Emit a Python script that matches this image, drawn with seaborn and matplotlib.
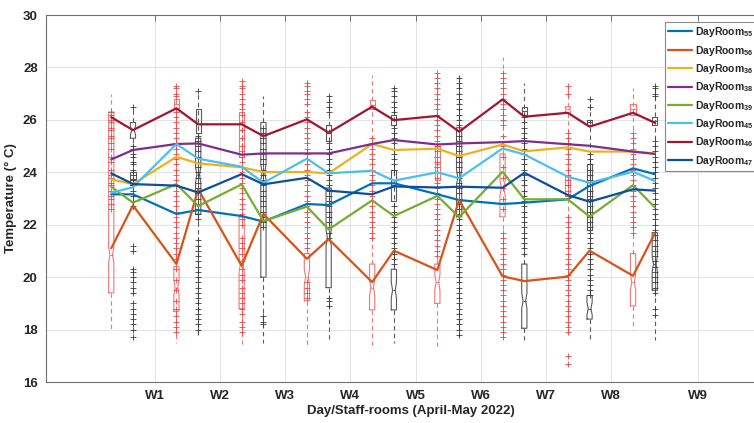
import numpy as np
import pandas as pd
import matplotlib
matplotlib.use("Agg")
import matplotlib.pyplot as plt
from matplotlib.lines import Line2D
import seaborn as sns

# ---------------- data ----------------
rooms = ["DayRoom55", "DayRoom56", "DayRoom36", "DayRoom38",
         "DayRoom39", "DayRoom45", "DayRoom46", "DayRoom47"]
room_labels = [r"DayRoom$_{55}$", r"DayRoom$_{56}$", r"DayRoom$_{36}$", r"DayRoom$_{38}$",
               r"DayRoom$_{39}$", r"DayRoom$_{45}$", r"DayRoom$_{46}$", r"DayRoom$_{47}$"]
week_labels = ["W1", "W2", "W3", "W4", "W5", "W6", "W7", "W8", "W9"]

# median temperature of each room at the 18 sampled days/staff-room groups
t55 = [23.16, 23.16, 22.41, 22.56, 22.33, 22.12, 22.79, 22.75, 23.58, 23.58, 23.16, 22.94, 22.79, 22.84, 22.97, 23.48, 24.15, 23.93]
t56 = [21.10, 22.74, 20.50, 23.35, 20.43, 22.41, 20.70, 21.45, 19.81, 21.01, 20.27, 22.94, 20.03, 19.85, 20.02, 21.01, 20.05, 21.67]
t36 = [23.73, 23.55, 24.59, 24.34, 24.19, 24.01, 24.01, 23.96, 25.08, 24.85, 24.90, 24.62, 25.06, 24.80, 24.95, 24.79, 24.79, 24.72]
t38 = [24.49, 24.85, 25.08, 25.10, 24.67, 24.72, 24.72, 24.72, 25.08, 25.23, 25.06, 25.10, 25.15, 25.19, 25.07, 25.01, 24.79, 24.70]
t39 = [23.45, 22.84, 23.55, 22.71, 23.54, 22.14, 22.69, 21.82, 22.93, 22.33, 23.10, 22.29, 24.02, 22.97, 22.97, 22.31, 23.51, 22.66]
t45 = [23.22, 23.43, 25.08, 24.52, 24.21, 23.60, 24.52, 23.96, 24.06, 23.68, 24.00, 23.77, 24.91, 24.68, 23.83, 23.60, 24.02, 23.67]
t46 = [26.10, 25.61, 26.44, 25.83, 25.83, 25.38, 26.02, 25.51, 26.50, 25.99, 26.15, 25.55, 26.78, 26.12, 26.27, 25.74, 26.27, 25.89]
t47 = [23.96, 23.55, 23.49, 23.23, 23.93, 23.54, 23.79, 23.30, 23.16, 23.46, 23.42, 23.45, 23.41, 23.98, 23.13, 22.88, 23.35, 23.30]

# main box of each group (even = red group, odd = black group)
box_q1 = [19.4, 25.3, 18.7, 22.4, 18.8, 20.0, 19.1, 19.6, 18.75, 18.75, 19.0, 22.3, 22.3, 18.05, 26.25, 18.4, 18.9, 19.5]
box_med = [20.85, 25.6, 19.6, 23.9, 20.5, 24.0, 20.0, 21.5, 19.6, 19.5, 19.8, 23.8, 23.4, 19.1, 26.4, 18.8, 19.8, 20.5]
box_q3 = [26.3, 25.9, 20.4, 25.3, 22.3, 25.9, 20.9, 23.4, 20.5, 20.3, 20.5, 25.7, 24.7, 20.5, 26.5, 19.3, 20.9, 21.7]
whis_lo = [17.9, 22.6, 17.5, 17.8, 17.45, 17.5, 17.4, 17.6, 17.4, 17.5, 17.35, 17.7, 17.6, 17.6, 17.9, 17.6, 18.0, 17.6]
whis_hi = [27.0, 26.5, 27.3, 27.1, 27.5, 26.9, 27.5, 26.95, 27.7, 27.2, 27.8, 27.65, 28.4, 27.4, 27.3, 26.8, 27.2, 27.3]

# additional small boxes overlaid on some groups
extra_idx = [1, 2, 3, 4, 7, 8, 9, 9, 10, 13, 14, 15, 15, 16, 17]
extra_q1 = [23.5, 26.45, 25.5, 24.6, 25.2, 26.4, 22.9, 25.8, 23.7, 26.2, 23.1, 21.8, 25.8, 26.2, 25.8]
extra_med = [23.75, 26.6, 25.85, 25.6, 25.5, 26.55, 23.5, 26.0, 24.3, 26.35, 23.5, 23.0, 25.9, 26.4, 25.95]
extra_q3 = [24.0, 26.8, 26.4, 26.3, 25.8, 26.75, 24.1, 26.2, 25.0, 26.5, 23.9, 24.3, 26.0, 26.6, 26.1]

# outliers (+) of each group
fliers = [
    [26.3, 26.2, 26.0, 25.9, 25.7, 25.6, 25.4, 25.3, 25.1, 24.9, 24.6, 24.4, 24.1, 23.9, 23.8, 23.6, 23.5, 23.3, 23.1, 23.0, 22.8, 22.6],
    [26.5, 25.0, 24.9, 24.7, 24.6, 24.4, 24.3, 24.1, 23.9, 23.7, 23.5, 23.3, 23.1, 22.9, 22.7, 21.2, 21.0, 20.3, 20.2, 20.0, 19.8, 19.6, 19.4, 19.0, 18.8, 18.6, 18.4, 18.2, 18.0, 17.7],
    [27.3, 27.2, 27.0, 26.9, 26.3, 26.1, 25.9, 25.7, 25.5, 25.3, 25.1, 24.9, 24.7, 24.5, 24.3, 24.1, 23.9, 23.7, 23.5, 23.3, 23.1, 22.9, 22.7, 22.5, 22.3, 22.1, 21.9, 21.7, 21.5, 21.3, 21.1, 20.9, 20.7, 20.3, 19.9, 19.5, 19.1, 18.8, 18.5, 18.3, 18.1, 17.9],
    [27.1, 25.4, 25.2, 25.0, 24.8, 24.6, 24.4, 24.2, 24.0, 23.8, 23.6, 23.4, 23.2, 23.0, 22.8, 22.6, 22.4, 22.2, 21.4, 21.2, 21.0, 20.8, 20.6, 20.4, 20.2, 20.0, 19.8, 19.6, 19.4, 19.2, 19.0, 18.8, 18.6, 18.4, 18.2, 18.0],
    [27.5, 27.3, 27.2, 27.0, 26.8, 26.6, 26.4, 26.2, 25.9, 25.6, 25.3, 25.0, 24.8, 24.6, 24.4, 24.2, 24.0, 23.8, 23.6, 23.4, 23.2, 23.0, 22.8, 22.6, 22.4, 22.2, 22.0, 21.5, 21.3, 21.1, 20.9, 20.6, 20.3, 20.1, 19.9, 19.6, 19.4, 19.2, 19.0, 18.8, 18.6, 18.3, 18.1, 17.9],
    [25.7, 25.5, 25.3, 25.1, 24.9, 24.7, 24.5, 24.3, 24.1, 23.9, 23.7, 23.5, 23.3, 23.1, 22.9, 22.7, 22.5, 22.3, 22.1, 21.9, 18.5, 18.3, 18.2],
    [27.4, 27.3, 27.1, 27.0, 26.8, 26.6, 26.3, 26.1, 25.9, 25.7, 25.5, 25.3, 25.1, 24.9, 24.7, 24.5, 24.3, 24.1, 23.9, 23.7, 23.5, 23.3, 23.1, 22.9, 22.7, 22.5, 22.3, 22.1, 21.9, 21.7, 21.5, 21.3, 21.1, 19.8, 19.6, 19.4, 19.2],
    [26.9, 26.7, 26.5, 26.3, 25.1, 24.9, 24.7, 24.5, 24.3, 24.1, 23.9, 23.7, 23.5, 23.3, 23.1, 22.9, 22.7, 22.5, 22.3, 22.1, 21.9, 21.7, 21.5, 19.2, 19.1, 18.9],
    [25.3, 25.1, 24.9, 24.7, 24.5, 24.3, 24.1, 23.9, 23.7, 23.5, 23.3, 23.1, 22.9, 22.7, 22.5, 22.3, 22.1, 21.9, 21.7, 21.5],
    [27.2, 27.1, 26.9, 26.7, 26.5, 26.3, 25.7, 25.5, 25.3, 25.1, 24.9, 24.7, 24.5, 24.3, 24.1, 22.7, 22.5, 22.3, 22.1, 21.9, 21.7, 21.5, 21.3, 21.1, 20.9, 20.7, 20.5],
    [27.8, 27.6, 27.4, 27.2, 27.0, 26.8, 26.6, 26.4, 26.2, 26.0, 25.8, 25.6, 25.4, 25.2, 25.0, 24.8, 24.6, 24.4, 24.2, 24.0, 23.8, 23.6, 23.4, 23.2, 23.0, 22.8, 22.6, 22.4, 22.2, 22.0, 21.8, 21.6, 21.4, 21.2, 21.0, 20.8],
    [27.6, 27.4, 27.2, 27.0, 26.8, 26.6, 26.4, 26.2, 26.0, 25.8, 25.6, 25.4, 25.2, 25.0, 24.8, 24.6, 24.4, 24.2, 24.0, 23.8, 23.6, 23.4, 23.2, 23.0, 22.8, 22.6, 22.4, 22.2, 22.0, 21.8, 21.6, 21.4, 21.2, 21.0, 20.8, 20.6, 20.4, 20.2, 20.0, 19.8, 19.6, 19.4, 19.2, 19.0, 18.8, 18.6, 18.4, 18.2, 18.0, 17.8],
    [27.8, 27.6, 27.4, 27.2, 27.0, 26.8, 26.6, 26.4, 26.2, 26.0, 25.8, 25.4, 25.0, 24.6, 24.2, 23.8, 23.4, 23.0, 22.6, 21.7, 21.5, 21.3, 21.1, 20.9, 20.7, 20.5, 20.3, 20.1, 19.9, 19.7, 19.5, 19.3, 19.1, 18.9, 18.7, 18.5, 18.3, 18.1, 17.9, 17.7],
    [26.1, 25.9, 25.7, 25.5, 25.3, 25.1, 24.9, 24.7, 24.5, 24.3, 24.1, 23.9, 23.7, 23.5, 23.3, 23.1, 22.9, 22.7, 22.5, 22.3, 22.1, 21.9, 21.7, 21.5, 21.3, 21.1, 20.9],
    [27.3, 27.0, 25.5, 25.3, 25.1, 24.9, 24.7, 24.5, 24.3, 24.1, 23.9, 23.7, 23.5, 23.3, 22.3, 22.1, 21.9, 21.7, 21.5, 21.3, 21.1, 20.9, 20.7, 20.5, 20.3, 20.1, 19.9, 19.7, 19.5, 19.3, 19.1, 18.9, 18.7, 18.5, 18.3, 18.1, 17.9, 17.0, 16.7],
    [26.8, 26.5, 24.7, 24.5, 24.3, 24.1, 23.9, 23.7, 23.5, 23.3, 23.1, 22.9, 22.7, 22.5, 22.3, 22.1, 21.9, 21.7, 21.5, 21.3, 21.1, 20.9, 20.7, 20.5, 20.3, 20.1, 19.9, 19.7, 19.5, 19.3],
    [25.5, 25.3, 25.1, 24.9, 24.7, 24.5, 24.3, 24.1, 23.9, 23.7, 23.5, 23.3, 23.1, 22.9, 22.7, 22.5, 22.3, 22.1, 21.9, 21.7],
    [27.3, 27.2, 27.0, 26.9, 25.2, 25.0, 24.8, 24.6, 24.4, 24.2, 24.0, 23.8, 23.6, 23.4, 23.2, 23.0, 22.8, 22.6, 22.4, 22.2, 22.0, 21.8, 21.6, 21.4, 21.2, 21.0, 20.8, 20.6, 20.4, 20.2, 20.0, 19.8, 19.6, 19.4, 18.8, 18.55],
]

# ---------------- style ----------------
sns.set_style("white")
plt.rcParams["font.family"] = ["Liberation Sans", "DejaVu Sans"]
plt.rcParams["font.weight"] = "bold"
plt.rcParams["mathtext.fontset"] = "custom"
plt.rcParams["mathtext.rm"] = "Liberation Sans:bold"
plt.rcParams["mathtext.it"] = "Liberation Sans:bold"
plt.rcParams["mathtext.bf"] = "Liberation Sans:bold"
plt.rcParams["mathtext.default"] = "rm"

colors = ["#0072BD", "#D95319", "#EDB120", "#7E2F8E", "#77AC30", "#4DBEEE", "#A2142F", "#0B4F9E"]
RED_BOX = "#F27878"
RED_PLUS = "#EE4444"
BLK_BOX = "#5A5A5A"
BLK_PLUS = "#3A3A3A"

n = len(t55)
slots = [3 * (i // 2) + 1 + (i % 2) for i in range(n)]
week_pos = [3 * (w + 1) for w in range(8)] + [28]

fig = plt.figure(figsize=(7.54, 4.23), dpi=100)
ax = fig.add_axes([46 / 754, 41 / 423, (775 - 46) / 754, 367 / 423])


def stats_for(q1, med, q3, lo, hi, notch):
    half = min(0.3, (med - q1) * 0.6, (q3 - med) * 0.6) if notch else 0.0
    return dict(med=med, q1=q1, q3=q3, whislo=lo, whishi=hi, fliers=[],
                cilo=med - half, cihi=med + half)


common = dict(widths=0.24, showcaps=False, showfliers=False, manage_ticks=False, zorder=2)
for parity, bc, pc in [(0, RED_BOX, RED_PLUS), (1, BLK_BOX, BLK_PLUS)]:
    props = dict(boxprops=dict(color=bc, lw=0.8),
                 whiskerprops=dict(color=bc, lw=0.8, ls=(0, (4, 3))),
                 medianprops=dict(color=bc, lw=0.8))
    idx = [i for i in range(n) if i % 2 == parity]
    st = [stats_for(box_q1[i], box_med[i], box_q3[i], whis_lo[i], whis_hi[i], True) for i in idx]
    ax.bxp(st, positions=[slots[i] for i in idx], shownotches=True, **common, **props)
    ex = [k for k in range(len(extra_idx)) if extra_idx[k] % 2 == parity]
    st2 = [stats_for(extra_q1[k], extra_med[k], extra_q3[k], extra_q1[k], extra_q3[k], False) for k in ex]
    ax.bxp(st2, positions=[slots[extra_idx[k]] for k in ex], shownotches=False, **common, **props)
    fx = [slots[i] for i in idx for _ in fliers[i]]
    fy = [v for i in idx for v in fliers[i]]
    sns.scatterplot(x=fx, y=fy, marker="+", s=20, color=pc, linewidth=0.6,
                    ax=ax, zorder=2.5, legend=False)

series = [t55, t56, t36, t38, t39, t45, t46, t47]
df = pd.DataFrame({
    "room": np.repeat(rooms, n),
    "slot": slots * len(rooms),
    "temp": np.concatenate(series),
})
sns.lineplot(data=df, x="slot", y="temp", hue="room", hue_order=rooms,
             palette=colors, estimator=None, sort=False, lw=1.6,
             ax=ax, legend=False, zorder=3)

ax.set_xlim(-2, 1 + (775 - 111) / 21.75)
ax.set_ylim(16, 30)
ax.set_yticks(range(16, 31, 2))
ax.set_xticks(week_pos)
ax.set_xticklabels(week_labels)
ax.grid(True, color="#E3E3E3", lw=0.7)
ax.set_axisbelow(True)
for s in ["left", "bottom", "top"]:
    ax.spines[s].set_color("#6E6E6E")
    ax.spines[s].set_linewidth(0.8)
ax.spines["right"].set_visible(False)
ax.tick_params(axis="both", direction="in", length=4, width=0.7, color="#6E6E6E",
               labelsize=9.5, labelcolor="#262626", top=True, pad=6)
for t in ax.get_xticklabels() + ax.get_yticklabels():
    t.set_fontweight("bold")
ax.set_xlabel("Day/Staff-rooms (April-May 2022)", fontsize=9.5, fontweight="bold",
              color="#262626", labelpad=2)
ax.set_ylabel("Temperature (° C)", fontsize=9.5, fontweight="bold", color="#262626",
              labelpad=4)

handles = [Line2D([0], [0], color=c, lw=1.6) for c in colors]
leg = ax.legend(handles, room_labels, loc="upper left",
                bbox_to_anchor=(665 / 754, 1 - 22 / 423), bbox_transform=fig.transFigure,
                frameon=True, fancybox=False, edgecolor="#8A8A8A", framealpha=1,
                prop=dict(size=7.5, weight="bold"), handlelength=2.3, handletextpad=0.25,
                labelspacing=0.42, borderpad=0.3, borderaxespad=0)
leg.get_frame().set_linewidth(0.8)

fig.savefig("out.png", dpi=100)
